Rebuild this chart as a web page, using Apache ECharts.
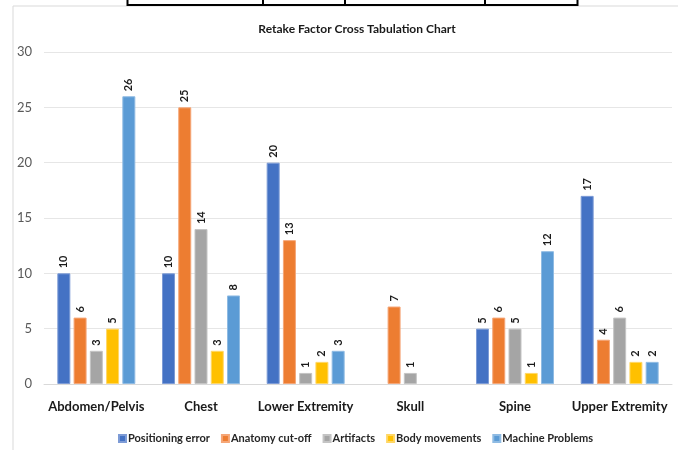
<!DOCTYPE html>
<html>
<head>
<meta charset="utf-8">
<script src="https://cdn.jsdelivr.net/npm/echarts@6/dist/echarts.min.js"></script>
<style>
  html, body { margin: 0; padding: 0; background: #ffffff; }
  #chart { width: 678px; height: 450px; }
</style>
</head>
<body>
<div id="chart"></div>
<script>
// Body regions on the category axis
const categories = ['Abdomen/Pelvis', 'Chest', 'Lower Extremity', 'Skull', 'Spine', 'Upper Extremity'];

// Retake counts per factor (null = no retakes recorded)
const positioningError = [10, 10, 20, null, 5, 17];
const anatomyCutOff    = [6, 25, 13, 7, 6, 4];
const artifacts        = [3, 14, 1, 1, 5, 6];
const bodyMovements    = [5, 3, 2, null, 1, 2];
const machineProblems  = [26, 8, 3, null, 12, 2];

const seriesNames = ['Positioning error', 'Anatomy cut-off', 'Artifacts', 'Body movements', 'Machine Problems'];
const seriesValues = [positioningError, anatomyCutOff, artifacts, bodyMovements, machineProblems];
const seriesColors = ['#4472C4', '#ED7D31', '#A5A5A5', '#FFC000', '#5B9BD5'];
const seriesBorders = ['#7d9bd6', '#f5a677', '#c4c4c4', '#ffd766', '#8fbbe3'];

const yTicks = { min: 0, max: 30, interval: 5 };

const FONT = 'Lato, "Open Sans", sans-serif';

const chart = echarts.init(document.getElementById('chart'), null, { renderer: 'canvas' });

chart.setOption({
  backgroundColor: '#ffffff',
  animation: false,
  title: {
    text: 'Retake Factor Cross Tabulation Chart',
    left: 352,
    textAlign: 'center',
    top: 18,
    textStyle: { fontFamily: FONT, fontSize: 12, fontWeight: 'bold', color: '#1a1a1a' }
  },
  legend: {
    data: seriesNames,
    left: 113,
    top: 428,
    icon: 'rect',
    itemWidth: 7,
    itemHeight: 7,
    itemGap: 11,
    textStyle: { fontFamily: FONT, fontSize: 11, fontWeight: 'bold', color: '#262626', padding: [0, 0, 0, -3] }
  },
  grid: { left: 44, right: 6, top: 52, bottom: 66 },
  xAxis: {
    type: 'category',
    data: categories,
    axisTick: { show: false },
    axisLine: { lineStyle: { color: '#d9d9d9', width: 1 } },
    axisLabel: { interval: 0, fontFamily: FONT, fontSize: 13, fontWeight: 'bold', color: '#1a1a1a', margin: 16 }
  },
  yAxis: {
    type: 'value',
    min: yTicks.min,
    max: yTicks.max,
    interval: yTicks.interval,
    axisLine: { show: false },
    axisTick: { show: false },
    splitLine: { lineStyle: { color: '#e6e6e6', width: 1 } },
    axisLabel: { fontFamily: FONT, fontSize: 13, color: '#595959', margin: 12 }
  },
  series: seriesNames.map((name, i) => ({
    name: name,
    type: 'bar',
    data: seriesValues[i],
    barWidth: 13,
    barGap: '25%',
    itemStyle: { color: seriesColors[i], borderColor: seriesBorders[i], borderWidth: 1 },
    label: {
      show: true,
      position: 'top',
      rotate: 90,
      align: 'left',
      verticalAlign: 'middle',
      distance: 5,
      fontFamily: FONT,
      fontSize: 11,
      fontWeight: 'bold',
      color: '#1a1a1a'
    }
  })),
  graphic: [
    // outer frame of the chart area
    { type: 'rect', shape: { x: 13, y: 6, width: 700, height: 500 }, style: { fill: 'none', stroke: '#d9d9d9', lineWidth: 1 }, silent: true },
    // bottom edge of the table above the chart
    { type: 'rect', shape: { x: 127.5, y: -10, width: 450, height: 15 }, style: { fill: '#ffffff', stroke: '#000000', lineWidth: 2 }, silent: true },
    { type: 'line', shape: { x1: 263, y1: 0, x2: 263, y2: 5 }, style: { stroke: '#000000', lineWidth: 2 }, silent: true },
    { type: 'line', shape: { x1: 345, y1: 0, x2: 345, y2: 5 }, style: { stroke: '#000000', lineWidth: 2 }, silent: true },
    { type: 'line', shape: { x1: 485, y1: 0, x2: 485, y2: 5 }, style: { stroke: '#000000', lineWidth: 2 }, silent: true }
  ]
});
</script>
</body>
</html>
